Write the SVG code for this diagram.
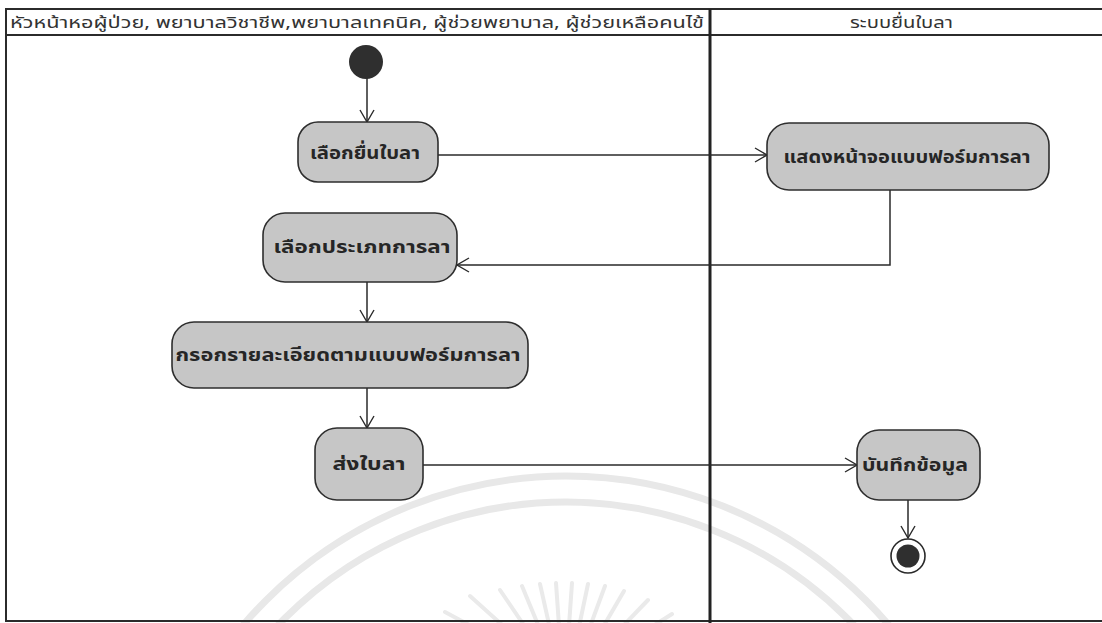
<svg xmlns="http://www.w3.org/2000/svg" width="1102" height="623" viewBox="0 0 1102 623">
  <style>
    .frame { fill: none; stroke: #2b2b2b; stroke-width: 2; }
    .divider { stroke: #222; stroke-width: 3; }
    .lane-title { font-family: "Noto Sans Thai", "DejaVu Sans", "Noto Sans", sans-serif; font-size: 16px; fill: #333; }
    .action rect { fill: #c6c6c6; stroke: #2e2e2e; stroke-width: 1.6; }
    .action text { font-family: "Noto Sans Thai", "DejaVu Sans", "Noto Sans", sans-serif; font-size: 18px; font-weight: bold; fill: #262626; text-anchor: middle; dominant-baseline: central; }
    .flow { fill: none; stroke: #2a2a2a; stroke-width: 1.5; marker-end: url(#open-arrow); }
    .seal { fill: none; stroke: #e8e8e8; }
  </style>
  <defs>
    <marker id="open-arrow" markerWidth="14" markerHeight="16" refX="13" refY="8" orient="auto" markerUnits="userSpaceOnUse">
      <path d="M1,1 L13,8 L1,15" fill="none" stroke="#2a2a2a" stroke-width="1.4"/>
    </marker>
  </defs>

  <rect width="1102" height="623" fill="#ffffff"/>

  <!-- faint seal in the background -->
  <g id="seal">
    <circle class="seal" cx="566" cy="900" r="398" stroke-width="7"/>
    <circle class="seal" cx="566" cy="900" r="424" stroke-width="7"/>
    <g stroke="#eaeaea" stroke-width="4" stroke-linecap="round">
      <line x1="520" y1="660" x2="425" y2="640"/>
      <line x1="525" y1="655" x2="445" y2="612"/>
      <line x1="530" y1="650" x2="470" y2="596"/>
      <line x1="538" y1="646" x2="500" y2="590"/>
      <line x1="546" y1="644" x2="522" y2="586"/>
      <line x1="553" y1="642" x2="540" y2="584"/>
      <line x1="560" y1="640" x2="556" y2="583"/>
      <line x1="568" y1="640" x2="572" y2="583"/>
      <line x1="576" y1="641" x2="588" y2="584"/>
      <line x1="584" y1="643" x2="605" y2="586"/>
      <line x1="592" y1="646" x2="624" y2="591"/>
      <line x1="600" y1="650" x2="648" y2="600"/>
      <line x1="607" y1="655" x2="672" y2="614"/>
      <line x1="613" y1="660" x2="696" y2="632"/>
    </g>
  </g>

  <!-- swimlane frame -->
  <g id="lanes">
    <rect class="frame" x="6" y="9" width="1110" height="612"/>
    <line class="frame" x1="6" y1="35" x2="1102" y2="35"/>
    <line class="divider" x1="710" y1="9" x2="710" y2="623"/>
    <text class="lane-title" x="10" y="28" textLength="694" lengthAdjust="spacingAndGlyphs">หัวหน้าหอผู้ป่วย, พยาบาลวิชาชีพ,พยาบาลเทคนิค, ผู้ช่วยพยาบาล, ผู้ช่วยเหลือคนไข้</text>
    <text class="lane-title" x="850" y="28" textLength="103" lengthAdjust="spacingAndGlyphs">ระบบยื่นใบลา</text>
  </g>

  <!-- control flows -->
  <g id="connectors">
    <line class="flow" x1="367" y1="78" x2="367" y2="122"/>
    <line class="flow" x1="438" y1="155" x2="767" y2="155"/>
    <polyline class="flow" points="890,190 890,265 457,265"/>
    <line class="flow" x1="367" y1="282" x2="367" y2="322"/>
    <line class="flow" x1="367" y1="388" x2="367" y2="428"/>
    <line class="flow" x1="423" y1="465" x2="857" y2="465"/>
    <line class="flow" x1="908" y1="500" x2="908" y2="538"/>
  </g>

  <g id="start">
    <circle cx="366" cy="62" r="17" fill="#2f2f2f"/>
  </g>

  <g id="select-leave" class="action">
    <rect x="298" y="122" width="140" height="60" rx="20"/>
    <text x="365" y="153" textLength="110" lengthAdjust="spacingAndGlyphs">เลือกยื่นใบลา</text>
  </g>

  <g id="show-form" class="action">
    <rect x="767" y="123" width="282" height="67" rx="22"/>
    <text x="907" y="157" textLength="247" lengthAdjust="spacingAndGlyphs">แสดงหน้าจอแบบฟอร์มการลา</text>
  </g>

  <g id="choose-type" class="action">
    <rect x="263" y="213" width="194" height="69" rx="22"/>
    <text x="362" y="247" textLength="177" lengthAdjust="spacingAndGlyphs">เลือกประเภทการลา</text>
  </g>

  <g id="fill-details" class="action">
    <rect x="172" y="322" width="356" height="66" rx="22"/>
    <text x="348" y="355" textLength="345" lengthAdjust="spacingAndGlyphs">กรอกรายละเอียดตามแบบฟอร์มการลา</text>
  </g>

  <g id="submit" class="action">
    <rect x="315" y="428" width="108" height="72" rx="22"/>
    <text x="369" y="464" textLength="73" lengthAdjust="spacingAndGlyphs">ส่งใบลา</text>
  </g>

  <g id="save-data" class="action">
    <rect x="857" y="430" width="123" height="70" rx="22"/>
    <text x="915" y="465" textLength="106" lengthAdjust="spacingAndGlyphs">บันทึกข้อมูล</text>
  </g>

  <g id="end">
    <circle cx="908" cy="556" r="17" fill="#ffffff" stroke="#2a2a2a" stroke-width="1.6"/>
    <circle cx="908" cy="556" r="11.5" fill="#2f2f2f"/>
  </g>
</svg>
